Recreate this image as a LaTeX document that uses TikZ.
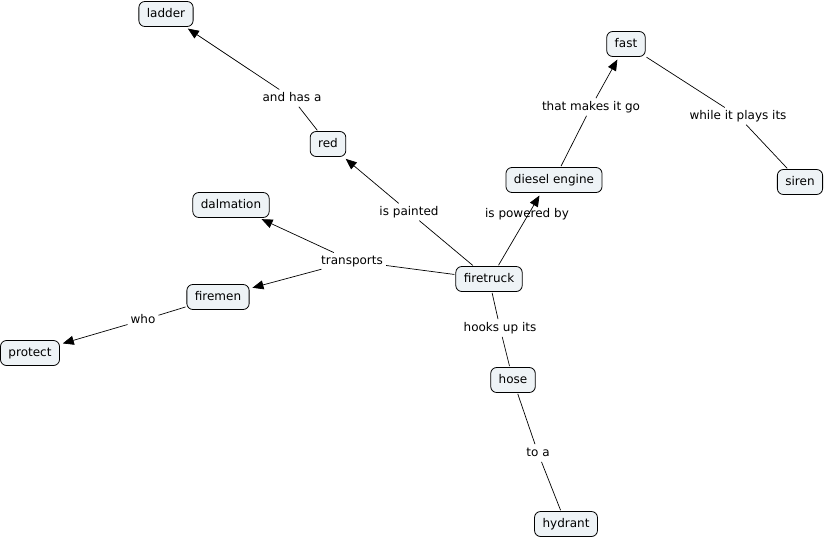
\documentclass[tikz,border=0pt]{standalone}
\usepackage{fontspec}
\setmainfont{DejaVu Sans}
\usetikzlibrary{arrows.meta}
\definecolor{cmapfill}{HTML}{EEF3F6}
\begin{document}
\begin{tikzpicture}[x=1pt,y=-1pt]
		\tikzstyle{concept}=[rectangle,rounded corners=6pt,draw=black,line width=0.8pt,fill=cmapfill,minimum height=25pt,inner xsep=8pt,inner ysep=0pt,text height=9pt,text depth=2.5pt,font=\fontsize{12}{14}\selectfont]
		\tikzstyle{phrase}=[inner sep=2pt,text height=9pt,text depth=2.5pt,font=\fontsize{12}{14}\selectfont]
		\tikzstyle{edge}=[draw,line width=0.7pt,-{Triangle[length=11pt,width=9pt]},shorten >=3pt,shorten <=1pt]
		\tikzstyle{tie}=[draw,line width=0.7pt,shorten >=1pt,shorten <=1pt]
		\useasboundingbox (0,0) rectangle (826,541);
		\begin{scope}
			% concepts
			\node [concept] (ladder) at (166,14) {ladder};
			\node [concept] (fast) at (626,44) {fast};
			\node [concept] (red) at (328,144) {red};
			\node [concept] (diesel) at (554,180) {diesel engine};
			\node [concept] (siren) at (800,182) {siren};
			\node [concept] (dalmation) at (231,205) {dalmation};
			\node [concept] (firetruck) at (489,279) {firetruck};
			\node [concept] (firemen) at (218,297) {firemen};
			\node [concept] (protect) at (30,353) {protect};
			\node [concept] (hose) at (513,380) {hose};
			\node [concept] (hydrant) at (566,524) {hydrant};
			% linking phrases
			\node [phrase] (hasa) at (292,98) {and has a};
			\node [phrase] (makesgo) at (591,107) {that makes it go};
			\node [phrase] (plays) at (738,116) {while it plays its};
			\node [phrase] (painted) at (409,212) {is painted};
			\node [phrase] (powered) at (527,214) {is powered by};
			\node [phrase] (transports) at (352,261) {transports};
			\node [phrase] (who) at (143,320) {who};
			\node [phrase] (hooks) at (500,328) {hooks up its};
			\node [phrase] (toa) at (538,453) {to a};
			% links
			\path[tie] (firetruck) edge (painted);
			\path[edge] (painted) edge (red);
			\path[tie] (red) edge (hasa);
			\path[edge] (hasa) edge (ladder);
			\draw[edge] ([xshift=9pt]firetruck.north) -- ([xshift=-13pt]diesel.south);
			\path[tie] (diesel) edge (makesgo);
			\path[edge] (makesgo) edge (fast);
			\path[tie] (fast) edge (plays);
			\path[tie] (plays) edge (siren);
			\path[tie] (firetruck) edge (transports);
			\path[edge] (transports) edge (dalmation);
			\path[edge] (transports) edge (firemen);
			\path[tie] (firemen) edge (who);
			\path[edge] (who) edge (protect);
			\path[tie] (firetruck) edge (hooks);
			\path[tie] (hooks) edge (hose);
			\path[tie] (hose) edge (toa);
			\path[tie] (toa) edge (hydrant);
		\end{scope}
\end{tikzpicture}
\end{document}
